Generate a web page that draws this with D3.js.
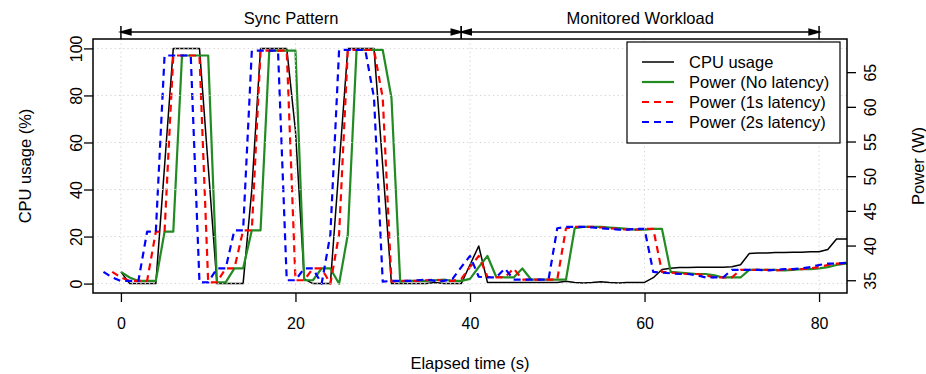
<!DOCTYPE html>
<html>
<head>
<meta charset="utf-8">
<script src="https://cdn.jsdelivr.net/npm/d3@7/dist/d3.min.js"></script>
<style>
body { margin: 0; background: #fff; }
text { font-family: "Liberation Sans", Arial, Helvetica, sans-serif; fill: #000; }
</style>
</head>
<body>
<div id="chart"></div>
<script>
// elapsed time (s), one sample per second
const secs = [-2, -1, 0, 1, 2, 3, 4, 5, 6, 7, 8, 9, 10, 11, 12, 13, 14, 15, 16, 17, 18, 19,
  20, 21, 22, 23, 24, 25, 26, 27, 28, 29, 30, 31, 32, 33, 34, 35, 36, 37, 38, 39,
  40, 41, 42, 43, 44, 45, 46, 47, 48, 49, 50, 51, 52, 53, 54, 55, 56, 57, 58, 59,
  60, 61, 62, 63, 64, 65, 66, 67, 68, 69, 70, 71, 72, 73, 74, 75, 76, 77, 78, 79,
  80, 81, 82, 83, 84, 85, 86]

// CPU usage (%)
const cpuUsage = [null, null,
  5, 0, 0, 0, 0, 50, 100, 100, 100, 100,
  50, 0, 0, 0, 0, 40, 100, 100, 100, 100,
  65, 2, 0, 0, 0, 50, 100, 100, 100, 100,
  50, 0, 0, 0, 0, 0, 0.5, 0, 0, 0,
  8, 16, 0.5, 0.5, 0.5, 0.5, 0.5, 0.5, 0.5, 0.5,
  0.5, 1, 0.5, 0.3, 0.5, 0.8, 0.5, 0.3, 0.5, 0.5,
  0.5, 2.5, 6, 6.5, 6.8, 6.8, 7, 7, 7, 7,
  7.2, 8, 12.8, 13, 13, 13.2, 13.2, 13.3, 13.3, 13.5,
  13.5, 14.5, 19, 19, 19, 19, 19]

// power (W)
const powerNoLatency = [null, null,
  36.2, 35.4, 34.9, 34.9, 34.9, 42.0, 42.0, 67.4, 67.4, 67.4,
  67.4, 34.7, 34.7, 36.7, 36.7, 42.2, 42.2, 68.1, 68.1, 68.1,
  68.1, 35.0, 35.0, 36.7, 36.7, 34.5, 41.6, 68.2, 68.2, 68.2,
  68.2, 61.3, 34.8, 34.9, 34.9, 34.9, 35.0, 35.1, 34.9, 34.9,
  35.2, 36.9, 38.5, 35.5, 35.4, 35.4, 36.7, 35.1, 35.1, 35.1,
  35.1, 35.1, 42.5, 42.7, 42.7, 42.7, 42.6, 42.5, 42.4, 42.3,
  42.3, 42.4, 42.4, 36.2, 36.1, 36.0, 35.9, 35.9, 35.7, 35.4,
  35.4, 35.4, 36.5, 36.5, 36.5, 36.5, 36.4, 36.5, 36.6, 36.6,
  36.7, 36.9, 37.2, 37.4, 37.4, 37.5, 37.5]

const power1s = [null,
  36.2, 35.4, 34.9, 34.9, 34.9, 42.0, 42.0, 67.4, 67.4, 67.4,
  67.4, 34.7, 34.7, 36.7, 36.7, 42.2, 42.2, 68.1, 68.1, 68.1,
  68.1, 35.0, 35.0, 36.7, 36.7, 34.5, 41.6, 68.2, 68.2, 68.2,
  68.2, 61.3, 34.8, 34.9, 34.9, 34.9, 35.0, 35.1, 34.9, 34.9,
  35.2, 36.9, 38.5, 35.5, 35.4, 35.4, 36.7, 35.1, 35.1, 35.1,
  35.1, 35.1, 42.5, 42.7, 42.7, 42.7, 42.6, 42.5, 42.4, 42.3,
  42.3, 42.4, 42.4, 36.2, 36.1, 36.0, 35.9, 35.9, 35.7, 35.4,
  35.4, 35.4, 36.5, 36.5, 36.5, 36.5, 36.4, 36.5, 36.6, 36.6,
  36.7, 36.9, 37.2, 37.4, 37.4, 37.5, 37.5, null]

const power2s = [
  36.2, 35.4, 34.9, 34.9, 34.9, 42.0, 42.0, 67.4, 67.4, 67.4,
  67.4, 34.7, 34.7, 36.7, 36.7, 42.2, 42.2, 68.1, 68.1, 68.1,
  68.1, 35.0, 35.0, 36.7, 36.7, 34.5, 41.6, 68.2, 68.2, 68.2,
  68.2, 61.3, 34.8, 34.9, 34.9, 34.9, 35.0, 35.1, 34.9, 34.9,
  35.2, 36.9, 38.5, 35.5, 35.4, 35.4, 36.7, 35.1, 35.1, 35.1,
  35.1, 35.1, 42.5, 42.7, 42.7, 42.7, 42.6, 42.5, 42.4, 42.3,
  42.3, 42.4, 42.4, 36.2, 36.1, 36.0, 35.9, 35.9, 35.7, 35.4,
  35.4, 35.4, 36.5, 36.5, 36.5, 36.5, 36.4, 36.5, 36.6, 36.6,
  36.7, 36.9, 37.2, 37.4, 37.4, 37.5, 37.5, null, null]

const xTicks = [0, 20, 40, 60, 80]
const cpuTicks = [0, 20, 40, 60, 80, 100]
const powerTicks = [35, 40, 45, 50, 55, 60, 65]

const phaseNames = ["Sync Pattern", "Monitored Workload"]
const phaseStart = [0, 39]
const phaseEnd = [39, 80]

const legendNames = ["CPU usage", "Power (No latency)", "Power (1s latency)", "Power (2s latency)"]

const svgWidth = 926
const svgHeight = 374
const box = { left: 93, right: 847, top: 39, bottom: 293 }

const series = [
  { values: cpuUsage, axis: "cpu", color: "#000000", width: 1.5, dash: null },
  { values: powerNoLatency, axis: "power", color: "#228B22", width: 2.2, dash: null },
  { values: power1s, axis: "power", color: "#ff0000", width: 2.2, dash: "7,5" },
  { values: power2s, axis: "power", color: "#0000ff", width: 2.2, dash: "7,5" }
]

const svg = d3.select("#chart")
  .append("svg")
  .attr("width", svgWidth)
  .attr("height", svgHeight)
  .style("font-size", "16.5px")

const x = d3.scaleLinear()
  .domain([-3.2, 83.2])
  .range([box.left, box.right])

const y = d3.scaleLinear()
  .domain([-4, 104])
  .range([box.bottom, box.top])

const y2 = d3.scaleLinear()
  .domain([33.16, 69.78])
  .range([box.bottom, box.top])

svg.append("clipPath")
  .attr("id", "plotclip")
  .append("rect")
  .attr("x", box.left)
  .attr("y", box.top)
  .attr("width", box.right - box.left)
  .attr("height", box.bottom - box.top)

// data lines
const plot = svg.append("g").attr("clip-path", "url(#plotclip)")

series.forEach(function(s) {
  const pts = secs.map((t, i) => ({ t: t, v: s.values[i] }))
  const yy = s.axis == "cpu" ? y : y2
  plot.append("path")
    .datum(pts)
    .attr("fill", "none")
    .attr("stroke", s.color)
    .attr("stroke-width", s.width)
    .attr("stroke-dasharray", s.dash)
    .attr("stroke-linejoin", "round")
    .attr("d", d3.line()
      .defined(d => d.v != null)
      .x(d => x(d.t))
      .y(d => yy(d.v)))
})

// dotted grid on top of the lines
const grid = svg.append("g")
  .attr("stroke", "#d3d3d3")
  .attr("stroke-width", 1)
  .attr("stroke-dasharray", "1.3,3")

grid.selectAll(".hgrid")
  .data(cpuTicks)
  .join("line")
  .attr("x1", box.left)
  .attr("x2", box.right)
  .attr("y1", d => y(d))
  .attr("y2", d => y(d))

grid.selectAll(".vgrid")
  .data(xTicks)
  .join("line")
  .attr("x1", d => x(d))
  .attr("x2", d => x(d))
  .attr("y1", box.top)
  .attr("y2", box.bottom)

// axes
const xAxis = svg.append("g")
  .attr("transform", `translate(0,${box.bottom})`)
  .call(d3.axisBottom(x).tickValues(xTicks).tickSize(9).tickPadding(16))
xAxis.select(".domain").remove()

const yAxis = svg.append("g")
  .attr("transform", `translate(${box.left},0)`)
  .call(d3.axisLeft(y).tickValues(cpuTicks).tickSize(9))
yAxis.select(".domain").remove()
yAxis.selectAll(".tick text")
  .attr("x", null)
  .attr("dy", "0.35em")
  .attr("text-anchor", "middle")
  .attr("transform", "translate(-17,0) rotate(-90)")

const y2Axis = svg.append("g")
  .attr("transform", `translate(${box.right},0)`)
  .call(d3.axisRight(y2).tickValues(powerTicks).tickSize(9))
y2Axis.select(".domain").remove()
y2Axis.selectAll(".tick text")
  .attr("x", null)
  .attr("dy", "0.35em")
  .attr("text-anchor", "middle")
  .attr("transform", "translate(23,0) rotate(-90)")

svg.selectAll(".tick line").attr("stroke", "#000").attr("stroke-width", 1.3)
svg.selectAll(".tick text").style("font-size", "16px").attr("fill", "#000")

svg.append("rect")
  .attr("x", box.left)
  .attr("y", box.top)
  .attr("width", box.right - box.left)
  .attr("height", box.bottom - box.top)
  .attr("fill", "none")
  .attr("stroke", "#000")
  .attr("stroke-width", 1.5)

// axis titles
svg.append("text")
  .attr("x", (box.left + box.right) / 2)
  .attr("y", 369)
  .attr("text-anchor", "middle")
  .text("Elapsed time (s)")

svg.append("text")
  .attr("transform", `translate(31,${(box.top + box.bottom) / 2}) rotate(-90)`)
  .attr("text-anchor", "middle")
  .text("CPU usage (%)")

svg.append("text")
  .attr("transform", `translate(924,${(box.top + box.bottom) / 2}) rotate(-90)`)
  .attr("text-anchor", "middle")
  .text("Power (W)")

// phase arrows above the plot
const arrowY = 32
phaseNames.forEach(function(name, i) {
  const x0 = x(phaseStart[i])
  const x1 = x(phaseEnd[i])
  const g = svg.append("g")
    .attr("stroke", "#000")
    .attr("stroke-width", 1.5)
    .attr("fill", "#000")
  g.append("line")
    .attr("x1", x0).attr("x2", x1)
    .attr("y1", arrowY).attr("y2", arrowY)
  g.append("line")
    .attr("x1", x0).attr("x2", x0)
    .attr("y1", arrowY - 6).attr("y2", box.top)
  g.append("line")
    .attr("x1", x1).attr("x2", x1)
    .attr("y1", arrowY - 6).attr("y2", box.top)
  g.append("path")
    .attr("stroke-linejoin", "miter")
    .attr("d", `M${x0 + 10},${arrowY - 2.7}L${x0},${arrowY}L${x0 + 10},${arrowY + 2.7}Z`)
  g.append("path")
    .attr("d", `M${x1 - 10},${arrowY - 2.7}L${x1},${arrowY}L${x1 - 10},${arrowY + 2.7}Z`)
  svg.append("text")
    .attr("x", (x0 + x1) / 2)
    .attr("y", 24)
    .attr("text-anchor", "middle")
    .text(name)
})

// legend
const legend = svg.append("g")
legend.append("rect")
  .attr("x", 627)
  .attr("y", 42)
  .attr("width", 213)
  .attr("height", 101)
  .attr("fill", "#fff")
  .attr("stroke", "#000")
  .attr("stroke-width", 1.2)

const items = legend.selectAll(".item")
  .data(series)
  .join("g")
  .attr("transform", (d, i) => `translate(642,${62 + i * 20})`)

items.append("line")
  .attr("x1", 0)
  .attr("x2", 32)
  .attr("stroke", d => d.color)
  .attr("stroke-width", d => d.width)
  .attr("stroke-dasharray", d => d.dash)

items.append("text")
  .attr("x", 47)
  .attr("dy", "0.36em")
  .text((d, i) => legendNames[i])
</script>
</body>
</html>
